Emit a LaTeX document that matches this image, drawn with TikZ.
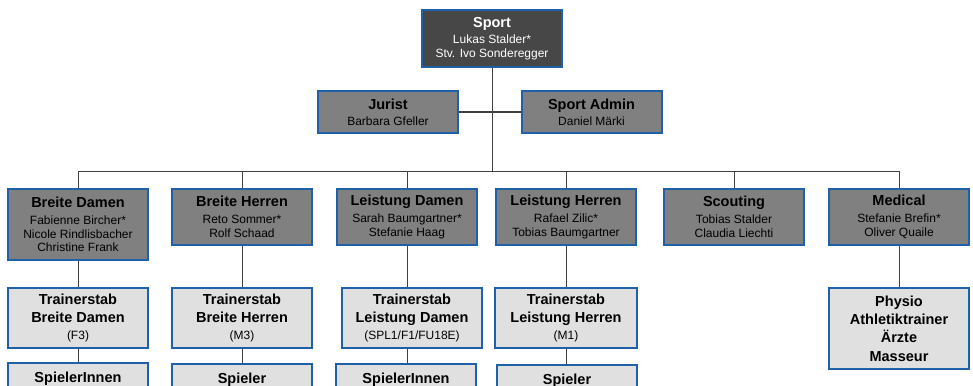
\documentclass[tikz,border=0pt]{standalone}
\usepackage{fontspec}
\setmainfont{Liberation Sans}
\definecolor{boxblue}{HTML}{2060A8}
\definecolor{darkfill}{HTML}{474747}
\definecolor{midfill}{HTML}{808080}
\definecolor{lightfill}{HTML}{E0E0E0}
\definecolor{linegray}{HTML}{404040}
\tikzset{
  orgbox/.style={draw=boxblue, line width=2pt, align=center, minimum width=140pt, inner sep=0pt,
    font=\fontsize{12}{13.8}\selectfont},
  headbox/.style={orgbox, fill=darkfill, text=white},
  unitbox/.style={orgbox, fill=midfill, text=black},
  staffbox/.style={orgbox, fill=lightfill, text=black, font=\fontsize{14.5}{18.3}\selectfont\bfseries},
  teambox/.style={staffbox, anchor=north, inner ysep=9pt, text depth=30pt},
  link/.style={linegray, line width=1pt}
}
\newcommand{\boxtitle}[1]{{\fontsize{14.5}{14.5}\selectfont\bfseries #1}}
\newcommand{\teamcode}[1]{{\fontsize{12}{12}\selectfont\mdseries #1}}
\begin{document}
\begin{tikzpicture}[x=1pt, y=-1pt]
\useasboundingbox (0,0) rectangle (973,385);
\clip (0,0) rectangle (973,385);

% top
\node[headbox, minimum height=57pt] (sport) at (492,38.5) {\boxtitle{Sport}\\[2pt]Lukas Stalder*\\Stv. Ivo Sonderegger};
\node[unitbox, minimum height=42pt] (jurist) at (388,112) {\boxtitle{Jurist}\\[2pt]Barbara Gfeller};
\node[unitbox, minimum height=42pt] (admin) at (591.5,112) {\boxtitle{Sport Admin}\\[2pt]Daniel M\"arki};

% departments
\node[unitbox, minimum height=71pt] (bd) at (78,224.5) {\boxtitle{Breite Damen}\\[3pt]Fabienne Bircher*\\Nicole Rindlisbacher\\Christine Frank};
\node[unitbox, minimum height=56pt] (bh) at (242,217) {\boxtitle{Breite Herren}\\[3pt]Reto Sommer*\\Rolf Schaad};
\node[unitbox, minimum height=56pt] (ld) at (407,217) {\boxtitle{Leistung Damen}\\[3pt]Sarah Baumgartner*\\Stefanie Haag};
\node[unitbox, minimum height=56pt] (lh) at (566,217) {\boxtitle{Leistung Herren}\\[3pt]Rafael Zilic*\\Tobias Baumgartner};
\node[unitbox, minimum height=56pt] (scout) at (734,217) {\boxtitle{Scouting}\\[3pt]Tobias Stalder\\Claudia Liechti};
\node[unitbox, minimum height=56pt] (med) at (899,217) {\boxtitle{Medical}\\[3pt]Stefanie Brefin*\\Oliver Quaile};

% trainers
\node[staffbox, minimum height=60pt] (tbd) at (78,318) {Trainerstab\\Breite Damen\\[-1.5pt]\teamcode{(F3)}};
\node[staffbox, minimum height=60pt] (tbh) at (242,318) {Trainerstab\\Breite Herren\\[-1.5pt]\teamcode{(M3)}};
\node[staffbox, minimum height=60pt] (tld) at (412,318) {Trainerstab\\Leistung Damen\\[-1.5pt]\teamcode{(SPL1/F1/FU18E)}};
\node[staffbox, minimum height=60pt, minimum width=142pt] (tlh) at (566,318) {Trainerstab\\Leistung Herren\\[-1.5pt]\teamcode{(M1)}};
\node[staffbox, minimum height=81pt] (physio) at (899,328.5) {Physio\\Athletiktrainer\\\"Arzte\\Masseur};

% players
\node[teambox] (pbd) at (78,362) {SpielerInnen};
\node[teambox] (pbh) at (242,363) {Spieler};
\node[teambox] (pld) at (406,363) {SpielerInnen};
\node[teambox] (plh) at (567,364) {Spieler};

% lines
\coordinate (busL) at (78,171);
\coordinate (busR) at (899,171);
\draw[link] (sport.south) -- (sport.south |- busL);
\draw[link] (jurist.east) -- (admin.west);
\draw[link] (busL) -- (busR);
\foreach \n in {bd,bh,ld,lh,scout,med}
  \draw[link] (\n.north |- busL) -- (\n.north);
\foreach \a/\b/\c in {bd/tbd/pbd, bh/tbh/pbh, ld/tld/pld, lh/tlh/plh} {
  \draw[link] (\a.south) -- (\a.south |- \b.north);
  \draw[link] (\a.south |- \b.south) -- (\a.south |- \c.north);
}
\draw[link] (med.south) -- (physio.north);
\end{tikzpicture}
\end{document}
